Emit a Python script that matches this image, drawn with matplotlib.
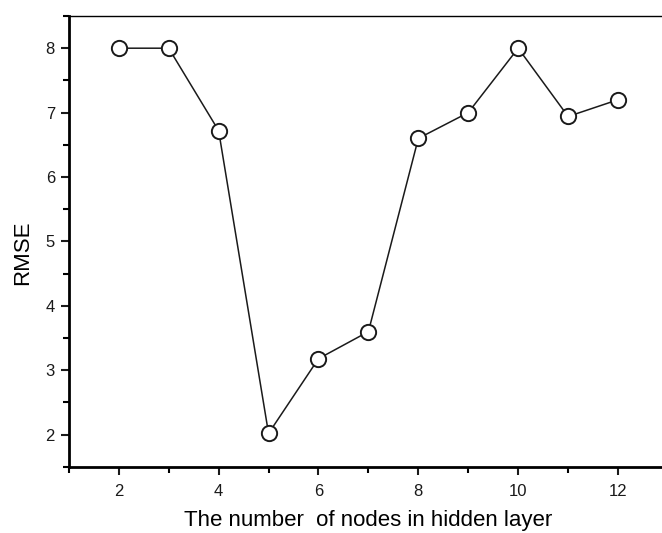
import matplotlib
matplotlib.use('Agg')
import matplotlib.pyplot as plt
from matplotlib.ticker import MultipleLocator

# Values
nodes = [2, 3, 4, 5, 6, 7, 8, 9, 10, 11, 12]
rmse = [8.0, 8.0, 6.72, 2.02, 3.18, 3.6, 6.6, 7.0, 8.0, 6.94, 7.2]
x_ticks = [2, 4, 6, 8, 10, 12]
y_ticks = [2, 3, 4, 5, 6, 7, 8]

plt.rcParams['font.family'] = ['Liberation Sans', 'DejaVu Sans']

fig = plt.figure(figsize=(6.62, 5.33), dpi=100)
ax = fig.add_axes([0.104, 0.124, 0.905, 0.846])

ax.plot(nodes, rmse, color='#1a1a1a', linewidth=1.1, marker='o', markersize=11,
        markerfacecolor='white', markeredgecolor='#1a1a1a', markeredgewidth=1.4)

ax.set_xlim(1, 13)
ax.set_ylim(1.5, 8.5)
ax.set_xticks(x_ticks)
ax.set_yticks(y_ticks)
ax.xaxis.set_minor_locator(MultipleLocator(1))
ax.yaxis.set_minor_locator(MultipleLocator(0.5))
ax.tick_params(which='major', direction='out', length=6, width=1.5,
               labelsize=12, colors='#1a1a1a')
ax.tick_params(axis='x', which='major', pad=6)
ax.tick_params(axis='y', which='major', pad=4)
ax.tick_params(which='minor', direction='out', length=4, width=1.5)
ax.tick_params(top=False, right=False)

for side in ['left', 'bottom']:
    ax.spines[side].set_linewidth(2)
ax.spines['top'].set_linewidth(1)
ax.spines['right'].set_visible(False)

ax.set_xlabel('The number  of nodes in hidden layer', fontsize=16, labelpad=8.5)
ax.set_ylabel('RMSE', fontsize=16)
ax.yaxis.set_label_coords(-0.060, 0.474)

fig.savefig('out.png', dpi=100)
plt.close(fig)
